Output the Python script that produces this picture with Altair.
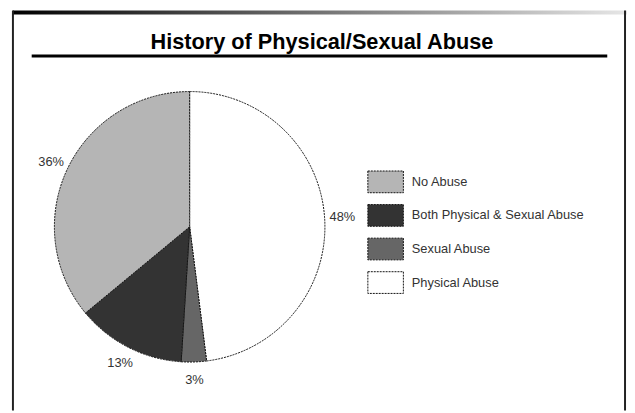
import altair as alt
import pandas as pd

# ---- data ----
categories = ["Physical Abuse", "Sexual Abuse", "Both Physical & Sexual Abuse", "No Abuse"]
values = [48, 3, 13, 36]
labels = ["48%", "3%", "13%", "36%"]
legend_order = ["No Abuse", "Both Physical & Sexual Abuse", "Sexual Abuse", "Physical Abuse"]
legend_colors = ["#b5b5b5", "#333333", "#666666", "#ffffff"]
title_text = "History of Physical/Sexual Abuse"

df = pd.DataFrame({
    "category": categories,
    "value": values,
    "label": labels,
    "order": list(range(len(categories))),
})
one = pd.DataFrame({"k": [0]})

W, H = 627, 405
CX, CY, R = 184, 219, 137
FONT = "Liberation Sans"

top_bar = alt.Chart(one).mark_rect(
    color=alt.Gradient(
        gradient="linear",
        stops=[alt.GradientStop(color="#000000", offset=0),
               alt.GradientStop(color="#e6e6e6", offset=1)],
        x1=0, x2=1, y1=0, y2=0,
    )
).encode(x=alt.value(5), x2=alt.value(627), y=alt.value(0), y2=alt.value(4))

left_border = alt.Chart(one).mark_rule(color="#222222", strokeWidth=2).encode(
    x=alt.value(5), y=alt.value(0), y2=alt.value(H))
right_border = alt.Chart(one).mark_rule(color="#222222", strokeWidth=2).encode(
    x=alt.value(625), y=alt.value(0), y2=alt.value(H))

title = alt.Chart(one).mark_text(
    text=title_text, font=FONT, fontSize=22, fontWeight="bold",
    align="center", baseline="alphabetic", color="#000000",
).encode(x=alt.value(318), y=alt.value(39))

underline = alt.Chart(one).mark_rule(color="#000000", strokeWidth=3).encode(
    x=alt.value(24), x2=alt.value(607), y=alt.value(46))

pie = alt.Chart(df).mark_arc(
    outerRadius=R, stroke="#111111", strokeWidth=1, strokeDash=[2, 1],
).encode(
    theta=alt.Theta("value:Q", stack=True),
    order=alt.Order("order:Q"),
    color=alt.Color(
        "category:N",
        scale=alt.Scale(domain=legend_order, range=legend_colors),
        legend=alt.Legend(
            title=None, orient="none", legendX=364, legendY=155,
            symbolType="M-1,-0.611H1V0.611H-1Z", symbolSize=1296,
            symbolStrokeColor="#111111", symbolStrokeWidth=1, symbolDash=[2, 1],
            symbolOpacity=1,
            labelFont=FONT, labelFontSize=13, labelColor="#333333",
            labelOffset=8, rowPadding=2, labelLimit=300,
        ),
    ),
    x=alt.value(CX), y=alt.value(CY),
)

pct = alt.Chart(df).mark_text(
    radius=155, font=FONT, fontSize=13, color="#333333",
).encode(
    theta=alt.Theta("value:Q", stack=True),
    order=alt.Order("order:Q"),
    text="label:N",
    x=alt.value(CX), y=alt.value(CY),
)

chart = alt.layer(top_bar, left_border, right_border, title, underline, pie, pct).properties(
    width=W, height=H, padding=0, autosize="none",
).configure_view(stroke="transparent")

chart.save("out.html", embed_options={"renderer": "svg", "actions": False})
